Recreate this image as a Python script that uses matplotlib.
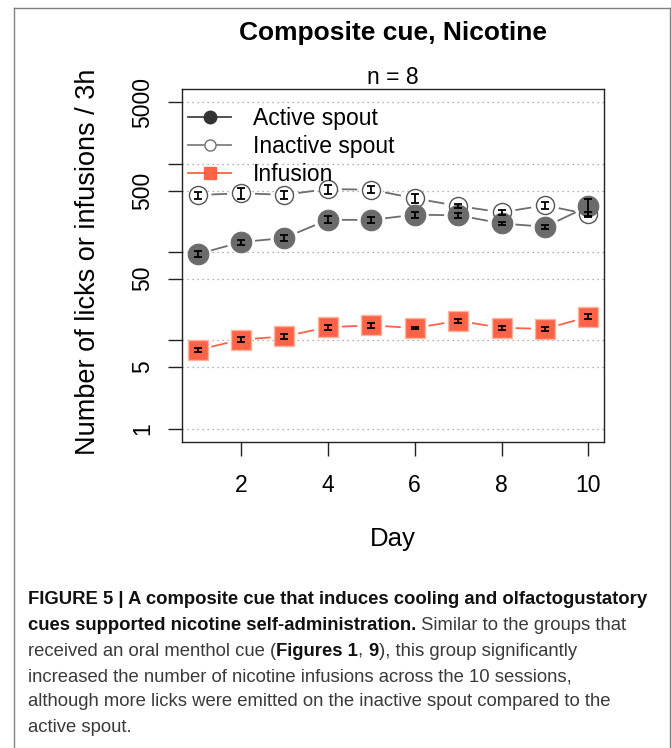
import matplotlib
matplotlib.use('Agg')
import matplotlib.pyplot as plt
import numpy as np
from matplotlib.lines import Line2D
from matplotlib.ticker import FixedLocator, NullLocator, FixedFormatter
from matplotlib import font_manager

# data (mean +/- sem, 10 sessions)
days = np.arange(1, 11)
active = [95, 130, 145, 233, 232, 266, 262, 212, 194, 331]
active_sem = [7, 9, 10, 21, 18, 23, 16, 9, 10, 72]
inactive = [445, 465, 448, 520, 511, 408, 334, 283, 340, 269]
inactive_sem = [39, 68, 51, 62, 48, 44, 19, 20, 28, 20]
infusion = [7.8, 10.2, 11.1, 14.1, 14.8, 13.8, 16.7, 13.9, 13.5, 18.5]
infusion_sem = [0.5, 0.6, 0.7, 0.9, 0.9, 0.5, 0.8, 0.7, 0.8, 1.2]

series_labels = ['Active spout', 'Inactive spout', 'Infusion']
yticks = [1, 5, 10, 50, 100, 500, 1000, 5000]
ytick_labels = ['1', '5', '', '50', '', '500', '', '5000']
xticks = [2, 4, 6, 8, 10]

caption = [
    [("FIGURE 5 | A composite cue that induces cooling and olfactogustatory", True)],
    [("cues supported nicotine self-administration.", True),
     (" Similar to the groups that", False)],
    [("received an oral menthol cue (", False), ("Figures 1", True), (", ", False),
     ("9", True), ("), this group significantly", False)],
    [("increased the number of nicotine infusions across the 10 sessions,", False)],
    [("although more licks were emitted on the inactive spout compared to the", False)],
    [("active spout.", False)],
]

plt.rcParams['font.family'] = ['Liberation Sans', 'DejaVu Sans']

W, H = 671, 748
fig = plt.figure(figsize=(W / 100, H / 100), dpi=100, facecolor='white')
ax = fig.add_axes([182 / W, 1 - 442 / H, 422 / W, 353 / H])

ax.set_yscale('log')
ax.set_xlim(0.64, 10.36)
ax.set_ylim(0.705, 7080)

ax.yaxis.set_major_locator(FixedLocator(yticks))
ax.yaxis.set_major_formatter(FixedFormatter(ytick_labels))
ax.yaxis.set_minor_locator(NullLocator())
ax.set_xticks(xticks)
ax.set_xticklabels([str(x) for x in xticks])

ax.tick_params(axis='both', length=10, width=1.0, color='#222222', labelsize=16.5)
ax.tick_params(axis='x', pad=13)
ax.tick_params(axis='y', pad=10)
for lab in ax.get_yticklabels():
    lab.set_rotation(90)
    lab.set_va('center')
for sp in ax.spines.values():
    sp.set_linewidth(1.0)
    sp.set_color('#222222')

ax.yaxis.grid(True, linestyle=(0, (1, 3)), color='#9a9a9a', lw=0.9)
ax.set_axisbelow(True)


def gapped_line(x, y, color, gap=14, lw=1.3):
    # R style type="b": segments stop short of the points
    pts = ax.transData.transform(np.column_stack([x, y]))
    inv = ax.transData.inverted()
    for p0, p1 in zip(pts[:-1], pts[1:]):
        d = p1 - p0
        L = np.hypot(d[0], d[1])
        if L <= 2 * gap:
            continue
        u = d / L
        a = inv.transform(p0 + u * gap)
        b = inv.transform(p1 - u * gap)
        ax.plot([a[0], b[0]], [a[1], b[1]], color=color, lw=lw, zorder=2,
                solid_capstyle='butt')


gapped_line(days, inactive, '#6e6e6e')
gapped_line(days, active, '#6e6e6e')
gapped_line(days, infusion, '#ff6347')

ax.plot(days, inactive, 'o', ms=13, mfc='white', mec='#555555', mew=1.0,
        ls='none', zorder=3)
ax.plot(days, active, 'o', ms=14.8, mfc='#6b6b6b', mec='#6b6b6b', mew=0.8,
        ls='none', zorder=3)
ax.plot(days, infusion, 's', ms=14.8, mfc='#ff6347', mec='#ffb4a0', mew=1.0,
        ls='none', zorder=3)

for vals, sem in [(inactive, inactive_sem), (active, active_sem), (infusion, infusion_sem)]:
    ax.errorbar(days, vals, yerr=sem, fmt='none', ecolor='black', elinewidth=1.3,
                capsize=2.8, capthick=1.3, zorder=4)

handles = [
    Line2D([], [], color='#444444', lw=1.3, marker='o', ms=9, mfc='#333333', mec='#333333'),
    Line2D([], [], color='#808080', lw=1.3, marker='o', ms=8, mfc='white', mec='#707070'),
    Line2D([], [], color='#ff6347', lw=1.3, marker='s', ms=8, mfc='#ff6347', mec='#ff6347'),
]
ax.legend(handles, series_labels, loc='upper left', bbox_to_anchor=(0.014, 0.949),
          frameon=False, fontsize=16.5, handlelength=1.9, handletextpad=0.95,
          labelspacing=0.21, borderpad=0, borderaxespad=0)

fig.text(393 / W, 1 - 33 / H, 'Composite cue, Nicotine', ha='center', va='center',
         fontsize=19, fontweight='bold')
fig.text(393 / W, 1 - 77 / H, 'n = 8', ha='center', va='center', fontsize=16.5)
fig.text(88 / W, 1 - 262 / H, 'Number of licks or infusions / 3h', ha='center',
         va='center', rotation=90, fontsize=19.5)
fig.text(393 / W, 1 - 539 / H, 'Day', ha='center', va='center', fontsize=18.5)

# page frame around the figure
fc = '#808080'
fig.add_artist(Line2D([13.5 / W, 13.5 / W], [0, 1 - 7.5 / H], transform=fig.transFigure, color=fc, lw=1.0))
fig.add_artist(Line2D([13.5 / W, 669.5 / W], [1 - 7.5 / H, 1 - 7.5 / H], transform=fig.transFigure, color=fc, lw=1.0))
fig.add_artist(Line2D([669.5 / W, 669.5 / W], [0, 1 - 7.5 / H], transform=fig.transFigure, color=fc, lw=1.0))

# caption, mixed bold / regular runs
names = {f.name for f in font_manager.fontManager.ttflist}
if 'Liberation Sans Narrow' in names:
    cap_font, cap_size = 'Liberation Sans Narrow', 15
else:
    cap_font, cap_size = 'Liberation Sans', 13.35

renderer = fig.canvas.get_renderer()


def run_width(s, bold):
    kw = dict(fontsize=cap_size, family=cap_font, fontweight='bold' if bold else 'normal')
    t1 = fig.text(0, 0, '|' + s + '|', **kw)
    t2 = fig.text(0, 0, '||', **kw)
    w = t1.get_window_extent(renderer).width - t2.get_window_extent(renderer).width
    t1.remove()
    t2.remove()
    return w


line_y = [600, 626, 651, 677, 702, 728]
for runs, yy in zip(caption, line_y):
    xx = 28.0
    for s, bold in runs:
        fig.text(xx / W, 1 - yy / H, s, ha='left', va='center', fontsize=cap_size,
                 family=cap_font, fontweight='bold' if bold else 'normal',
                 color='#111111' if bold else '#3a3a3a')
        xx += run_width(s, bold)

fig.savefig('out.png', dpi=100, facecolor='white')
